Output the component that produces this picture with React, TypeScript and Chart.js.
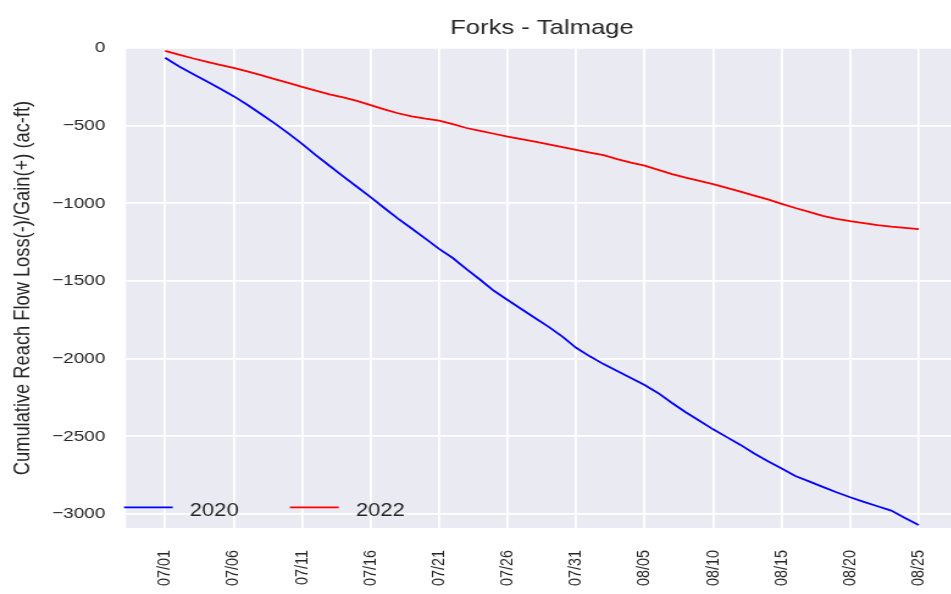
import { useEffect, useRef } from 'react';
import { Chart, registerables } from 'chart.js';

Chart.register(...registerables);

const chartTitle = 'Forks - Talmage';
const yAxisTitle = 'Cumulative Reach Flow Loss(-)/Gain(+) (ac-ft)';
const seriesNames = ['2020', '2022'];
const seriesColors = ['#0000ff', '#ff0000'];

// x positions are day offsets from 07/01
const tickDays = [0, 5, 10, 15, 20, 25, 30, 35, 40, 45, 50, 55];
const tickLabels = ['07/01', '07/06', '07/11', '07/16', '07/21', '07/26', '07/31', '08/05', '08/10', '08/15', '08/20', '08/25'];
const yTicks = [0, -500, -1000, -1500, -2000, -2500, -3000];

// daily cumulative values, 07/01 .. 08/25
const flow2020 = [
  -63, -118, -165, -213, -260, -310, -365, -425, -485, -550,
  -617, -690, -758, -826, -893, -960, -1030, -1098, -1162, -1227,
  -1293, -1352, -1423, -1492, -1563, -1622, -1680, -1738, -1795, -1858,
  -1930, -1985, -2035, -2080, -2125, -2170, -2222, -2285, -2345, -2400,
  -2455, -2505, -2555, -2610, -2660, -2707, -2755, -2790, -2825, -2860,
  -2892, -2922, -2950, -2978, -3025, -3070,
];
const flow2022 = [
  -18, -42, -66, -88, -108, -128, -150, -175, -200, -225,
  -250, -275, -298, -318, -340, -368, -395, -420, -440, -455,
  -467, -490, -515, -533, -552, -570, -587, -603, -620, -638,
  -656, -673, -690, -715, -738, -757, -785, -812, -835, -855,
  -877, -900, -925, -950, -975, -1003, -1030, -1055, -1080, -1100,
  -1115, -1128, -1140, -1150, -1158, -1166,
];

const FONT = "'Liberation Sans', Arial, Helvetica, sans-serif";
const TEXT = '#262626';
const STRETCH = 1.22;
const W = 785;
const H = 594;

const decorPlugin = {
  id: 'decor',
  beforeDraw(chart: any) {
    const { ctx, chartArea: a } = chart;
    ctx.save();
    ctx.fillStyle = '#EAEAF2';
    ctx.fillRect(a.left, a.top, a.right - a.left, a.bottom - a.top);
    ctx.restore();
  },
  afterDraw(chart: any) {
    const { ctx, chartArea: a } = chart;
    ctx.save();
    // title centred over the plot area
    ctx.fillStyle = TEXT;
    ctx.font = `21px ${FONT}`;
    ctx.textAlign = 'center';
    ctx.textBaseline = 'alphabetic';
    ctx.fillText(chartTitle, (a.left + a.right) / 2, 34);
    // legend in the lower-left corner of the plot
    ctx.font = `18px ${FONT}`;
    ctx.textAlign = 'left';
    let x = a.left - 1.7;
    const yLine = a.bottom - 20.7;
    const yText = a.bottom - 12;
    chart.data.datasets.forEach((ds: any) => {
      ctx.strokeStyle = ds.borderColor;
      ctx.lineWidth = 1.8;
      ctx.beginPath();
      ctx.moveTo(x, yLine);
      ctx.lineTo(x + 40, yLine);
      ctx.stroke();
      ctx.fillStyle = TEXT;
      ctx.fillText(ds.label, x + 54, yText);
      x += 54 + ctx.measureText(ds.label).width + 42;
    });
    ctx.restore();
  },
};

export default function App() {
  const ref = useRef<HTMLCanvasElement | null>(null);

  useEffect(() => {
    if (!ref.current) return;
    const chart = new Chart(ref.current, {
      type: 'line',
      data: {
        datasets: [flow2020, flow2022].map((vals, k) => ({
          label: seriesNames[k],
          data: vals.map((y, i) => ({ x: i, y })),
          borderColor: seriesColors[k],
          backgroundColor: seriesColors[k],
          borderWidth: 1.8,
          pointRadius: 0,
          tension: 0,
          fill: false,
        })),
      },
      options: {
        animation: false,
        responsive: false,
        devicePixelRatio: 1,
        layout: { padding: { top: 48, left: 0, right: 0, bottom: 0 } },
        plugins: {
          legend: { display: false },
          title: { display: false },
          tooltip: { enabled: false },
        },
        scales: {
          x: {
            type: 'linear',
            min: -2.85,
            max: 57.85,
            afterBuildTicks: (s: any) => {
              s.ticks = tickDays.map((v) => ({ value: v }));
            },
            afterFit: (s: any) => {
              s.height = 66;
              s.paddingLeft = 0;
              s.paddingRight = 0;
            },
            grid: { color: '#ffffff', lineWidth: 1.8, drawTicks: false },
            border: { display: false },
            ticks: {
              autoSkip: false,
              minRotation: 90,
              maxRotation: 90,
              padding: 22,
              color: TEXT,
              font: { family: FONT, size: 14.4 },
              callback: (_v: any, i: number) => tickLabels[i],
            },
          },
          y: {
            type: 'linear',
            min: -3090,
            max: 0,
            afterBuildTicks: (s: any) => {
              s.ticks = yTicks.map((v) => ({ value: v }));
            },
            afterFit: (s: any) => {
              s.width = 103.3;
            },
            grid: { color: '#ffffff', lineWidth: 1.8, drawTicks: false },
            border: { display: false },
            ticks: {
              padding: 17,
              color: TEXT,
              font: { family: FONT, size: 15.5 },
              callback: (v: any) => (v === 0 ? '0' : '\u2212' + Math.abs(v)),
            },
            title: {
              display: true,
              text: yAxisTitle,
              color: TEXT,
              font: { family: FONT, size: 18.3 },
              padding: { top: 8, bottom: 0 },
            },
          },
        },
      },
      plugins: [decorPlugin],
    });
    return () => chart.destroy();
  }, []);

  return (
    <div
      style={{
        position: 'fixed',
        left: 0,
        top: 0,
        width: 951,
        height: 594,
        overflow: 'hidden',
        background: '#ffffff',
      }}
    >
      <div style={{ width: W, height: H, transform: `scaleX(${STRETCH})`, transformOrigin: '0 0' }}>
        <canvas ref={ref} width={W} height={H} style={{ display: 'block' }} />
      </div>
    </div>
  );
}
